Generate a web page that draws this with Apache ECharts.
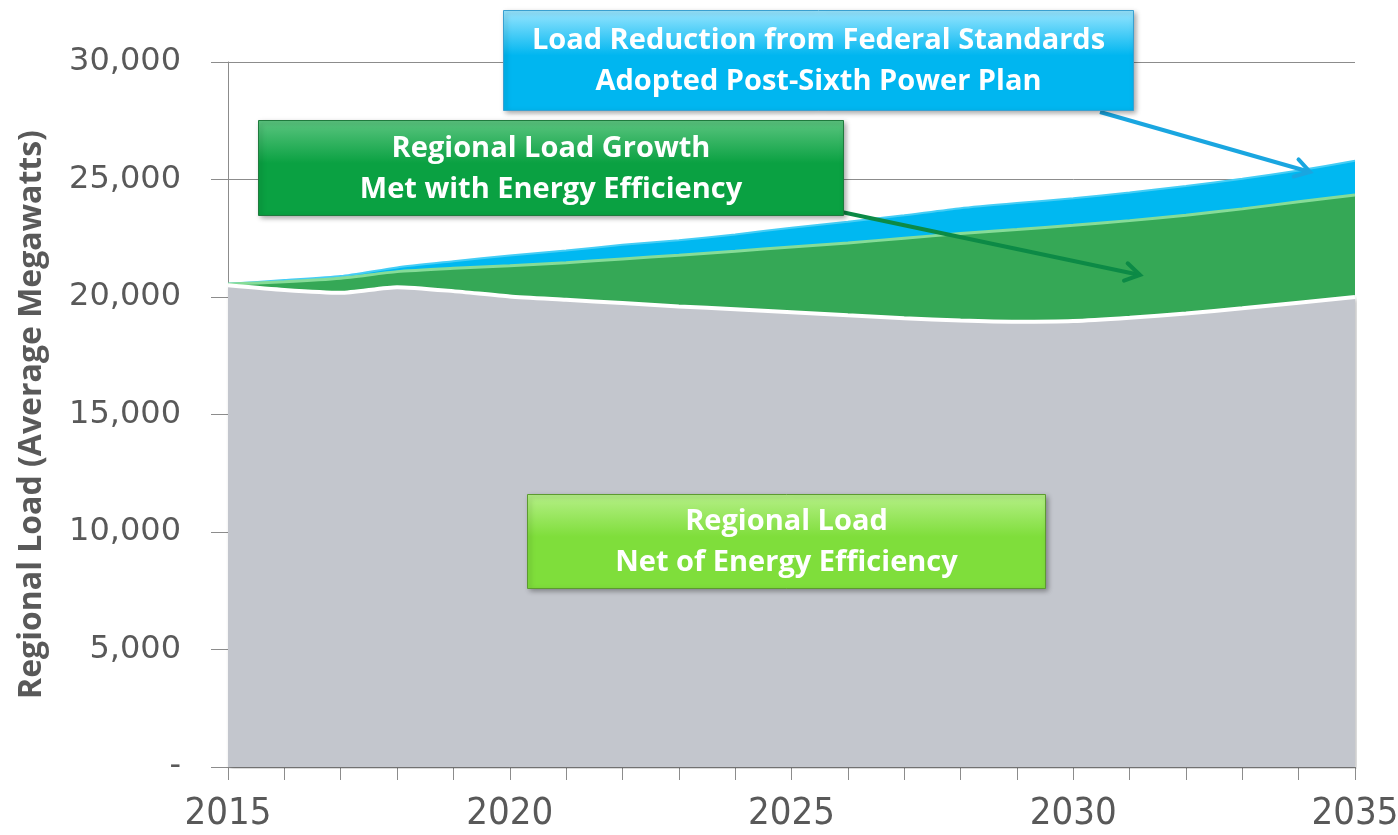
<!DOCTYPE html>
<html>
<head>
<meta charset="utf-8">
<title>Regional Load</title>
<script src="https://cdn.jsdelivr.net/npm/echarts@6/dist/echarts.min.js"></script>
<style>
  html, body { margin: 0; padding: 0; background: #ffffff; }
  #chart { width: 1398px; height: 835px; }
</style>
</head>
<body>
<div id="chart"></div>
<script>
// years on the x axis
var years = [2015, 2016, 2017, 2018, 2019, 2020, 2021, 2022, 2023, 2024, 2025,
             2026, 2027, 2028, 2029, 2030, 2031, 2032, 2033, 2034, 2035];

// regional load net of energy efficiency (grey area top)
var netLoad = [20500, 20300, 20180, 20420, 20250, 20020, 19880, 19740, 19600, 19480, 19350,
               19220, 19100, 19000, 18950, 18980, 19120, 19300, 19520, 19760, 20000];

// load before efficiency (green area top)
var loadBeforeEE = [20550, 20650, 20800, 21080, 21220, 21330, 21460, 21620, 21780, 21950, 22130,
                    22300, 22500, 22700, 22870, 23050, 23250, 23480, 23750, 24050, 24340];

// load before federal standards (blue area top)
var loadBeforeStd = [20560, 20720, 20890, 21260, 21520, 21770, 21980, 22220, 22420, 22660, 22950,
                     23200, 23480, 23780, 24000, 24200, 24450, 24720, 25030, 25380, 25800];

var yTicks = [0, 5000, 10000, 15000, 20000, 25000, 30000];

function pairs(vals) {
    return years.map(function (y, i) { return [y, vals[i]]; });
}

var labelGrey = '#595959';
var axisGrey = '#8c8c8c';

// box with gradient + two lines of text
function labelBox(x, y, w, h, top, bottom, border, lines) {
    return {
        type: 'group',
        left: x,
        top: y,
        z: 100,
        children: [{
            type: 'rect',
            z: 100,
            shape: { x: 0, y: 0, width: w, height: h },
            style: {
                fill: new echarts.graphic.LinearGradient(0, 0, 0, 1, [
                    { offset: 0, color: top },
                    { offset: 0.45, color: bottom },
                    { offset: 1, color: bottom }
                ]),
                stroke: border,
                lineWidth: 1,
                shadowBlur: 5,
                shadowOffsetX: 2,
                shadowOffsetY: 2,
                shadowColor: 'rgba(0,0,0,0.35)'
            }
        }, {
            type: 'text',
            z: 101,
            x: w / 2,
            y: h / 2 + 1,
            style: {
                text: lines.join('\n'),
                fill: '#ffffff',
                font: 'bold 29px "Open Sans"',
                lineHeight: 41,
                align: 'center',
                verticalAlign: 'middle'
            }
        }]
    };
}

function arrow(x1, y1, x2, y2, color) {
    var ang = Math.atan2(y2 - y1, x2 - x1);
    var len = 17, spread = 0.55;
    return {
        type: 'group',
        z: 100,
        children: [{
            type: 'line',
            z: 100,
            shape: { x1: x1, y1: y1, x2: x2, y2: y2 },
            style: { stroke: color, lineWidth: 4 }
        }, {
            type: 'polyline',
            z: 100,
            shape: {
                points: [
                    [x2 - len * Math.cos(ang - spread), y2 - len * Math.sin(ang - spread)],
                    [x2, y2],
                    [x2 - len * Math.cos(ang + spread), y2 - len * Math.sin(ang + spread)]
                ]
            },
            style: { stroke: color, lineWidth: 4, lineCap: 'round', lineJoin: 'miter', fill: null }
        }]
    };
}

var chart = echarts.init(document.getElementById('chart'));

var option = {
    backgroundColor: '#ffffff',
    animation: false,
    grid: { left: 228, right: 43, top: 62, bottom: 68, outerBoundsMode: 'none', containLabel: false },
    xAxis: {
        type: 'value',
        min: 2015,
        max: 2035,
        interval: 1,
        axisLine: { show: true, lineStyle: { color: axisGrey, width: 1 } },
        axisTick: { show: true, length: 13, lineStyle: { color: axisGrey } },
        splitLine: { show: false },
        axisLabel: {
            margin: 28,
            color: labelGrey,
            fontFamily: '"DejaVu Sans Condensed", "Liberation Sans", sans-serif',
            fontSize: 38,
            formatter: function (v) { return v % 5 === 0 ? String(v) : ''; }
        }
    },
    yAxis: {
        type: 'value',
        min: yTicks[0],
        max: yTicks[yTicks.length - 1],
        interval: 5000,
        name: 'Regional Load (Average Megawatts)',
        nameLocation: 'middle',
        nameGap: 180,
        nameTextStyle: {
            color: labelGrey,
            fontFamily: 'Open Sans',
            fontWeight: 'bold',
            fontSize: 32
        },
        axisLine: { show: true, lineStyle: { color: axisGrey, width: 1 } },
        axisTick: { show: true, length: 17, lineStyle: { color: axisGrey } },
        splitLine: { show: true, lineStyle: { color: axisGrey, width: 1 } },
        axisLabel: {
            margin: 47,
            color: labelGrey,
            fontFamily: 'DejaVu Sans',
            fontSize: 32,
            formatter: function (v) {
                return v === 0 ? '-' : v.toLocaleString('en-US');
            }
        }
    },
    series: [{
        name: 'Load Reduction from Federal Standards',
        type: 'line',
        data: pairs(loadBeforeStd),
        smooth: 0.2,
        symbol: 'none',
        z: 2,
        lineStyle: { color: '#45cdf5', width: 2 },
        areaStyle: { color: '#00b8f1', opacity: 1 }
    }, {
        name: 'Regional Load Growth Met with Energy Efficiency',
        type: 'line',
        data: pairs(loadBeforeEE),
        smooth: 0.2,
        symbol: 'none',
        z: 3,
        lineStyle: { color: '#86dc98', width: 3 },
        areaStyle: { color: '#35a856', opacity: 1 }
    }, {
        name: 'Regional Load Net of Energy Efficiency',
        type: 'line',
        data: pairs(netLoad),
        smooth: 0.2,
        symbol: 'none',
        z: 4,
        lineStyle: { color: '#ffffff', width: 4 },
        areaStyle: {
            color: '#c3c6cd',
            opacity: 1,
            shadowBlur: 4,
            shadowOffsetX: 2,
            shadowOffsetY: 2,
            shadowColor: 'rgba(0,0,0,0.25)'
        }
    }],
    graphic: [
        arrow(1100, 112, 1310, 172, '#1aa6e0'),
        arrow(832, 210, 1140, 275, '#0c8a46'),
        labelBox(503, 10, 630, 100, '#9ae6ff', '#00b6f0', '#3aa0d0',
            ['Load Reduction from Federal Standards', 'Adopted Post-Sixth Power Plan']),
        labelBox(258, 120, 585, 95, '#5cc580', '#0aa142', '#1f7a3d',
            ['Regional Load Growth', 'Met with Energy Efficiency']),
        labelBox(527, 494, 518, 94, '#b6f088', '#7fde3b', '#5c9a30',
            ['Regional Load', 'Net of Energy Efficiency'])
    ]
};

chart.setOption(option);

window.addEventListener('resize', function () {
    chart.resize();
});
</script>
</body>
</html>
